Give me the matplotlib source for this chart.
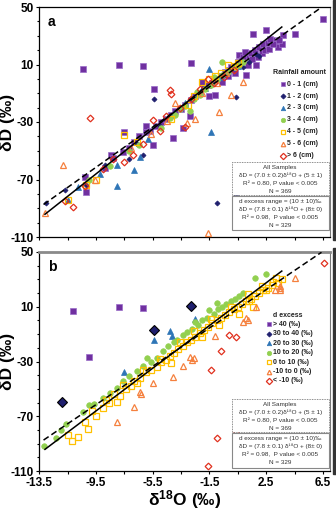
"""Two-panel δD vs δ18O scatter: (a) by rainfall amount, (b) by d excess."""
import matplotlib
matplotlib.use("Agg")
import matplotlib.pyplot as plt  # noqa: E402
from matplotlib.patches import Rectangle  # noqa: E402
from matplotlib.ticker import MultipleLocator, FixedLocator  # noqa: E402

plt.rcParams["font.family"] = ["Liberation Sans", "DejaVu Sans"]
plt.rcParams["mathtext.fontset"] = "custom"
plt.rcParams["mathtext.rm"] = "Liberation Sans"
plt.rcParams["mathtext.bf"] = "Liberation Sans:bold"
plt.rcParams["mathtext.it"] = "Liberation Sans:italic"

# ---- panel a: rainfall amount classes -------------------------------------
A_LABELS = ["0 - 1 (cm)", "1 - 2 (cm)", "2 - 3 (cm)", "3 - 4 (cm)",
            "4 - 5 (cm)", "5 - 6 (cm)", "> 6 (cm)"]
A_X_01 = [-10.4, -7.9, -6.2, -5.4, -2.8, -4.1, -5.5, -7.5, -10.3, -10.2, -8.45, -6.0,
          6.5, 1.6, 2.5, 4.5, 3.7, 3.1, 3.3, 3.6, 0.6, 1.8, 1.1, -1.1, -2.9, -3.4,
          -1.5, -2.0, -8.9, -8.3, -7.6, -7.2, -6.8, -6.5, -6.0, -5.7, -5.3, -4.9,
          -4.6, -4.2, -3.9, -3.5, -3.2, -2.8, -2.5, -2.2, -1.9, -1.6, -1.3, -1.0,
          -0.7, -0.4, -0.1, 0.2, 0.5, 0.8, 1.1, 1.4, 1.7, 2.0, 2.3, 2.6, 2.9, 0.9,
          1.5, 2.2, 0.3, -0.6, 1.9, 2.4, 2.7, 1.2, -0.2, 3.0, 2.8, 3.4, 0.0, 1.0]
A_Y_01 = [7, 10, 9, -7, 11, -41, -46, -37, -68, -79, -53, -33,
          42, 31, 34, 31, 30.5, 26, 22, 24, 16.6, 10, 3, -11, -26, -34,
          -12, -2, -62, -55, -51, -48, -44, -40, -37, -36, -33, -30,
          -28, -25, -22, -21, -18, -15, -12, -10, -6, -4, -3, 0,
          2, 5, 6, 9, 12, 13, 16, 18, 20, 22, 24, 25, 27, 15,
          14, 18, 4, -2, 15, 20, 21, 10, 2, 24, 28, 27, 8, 19]
A_X_12 = [0.35, -1.0, -5.4, 0.35, -13.0, -11.7, -6.2, -7.2, -8.9, -4.4, -10.2,
          0.9, 1.8, -3.5, -2.0, -0.5, 1.3, 2.0, -6.6, -5.0]
A_Y_12 = [-81, -86, -14, -12.4, -86.6, -77, -53, -56, -60, -27, -74,
          8.5, 17, -20, -8, 3, 12, 16, -45, -33]
A_X_23 = [-1.5, -1.4, -8.0, -6.8, -8.0, -9.2, -10.8, -11.5, -6.4, -4.0, -3.2,
          -2.3, -0.8, 0.5, -5.8, -1.8]
A_Y_23 = [6.7, -36.7, -74.5, -63.4, -60, -66, -75, -84, -54, -24, -17,
          -10, 1, 9, -42, -6]
A_X_34 = [-0.65, 0.9, -2.9, -4.9, -8.5, -10.0, -3.6, -3.2, -2.6, -2.2, -1.8,
          -1.4, -1.0, -0.6, -0.2, 0.3, -3.9, -4.3, -7.2, -6.5, 0.6, -2.4, -1.2]
A_Y_34 = [12, 12, -22, -34.4, -60.6, -70, -21, -19, -14, -11, -7,
          -4, -1, 3, 5, 8, -25, -27, -50, -46, 10, -9, 1]
A_X_45 = [-7.5, -2.0, -0.2, -10.2, -11.5, -9.5, -1.5, -0.7, 0.2, 0.5, -1.1,
          -4.2, -3.0, -6.6, -2.6]
A_Y_45 = [-39, -2, 9.7, -74, -84, -70, 0, 4, 9, 11, 2,
          -28, -18, -44, -12]
A_X_56 = [-13.1, -11.8, -1.6, 0.9, 0.0, -0.8, -2.5, -3.1, -3.9, -9.6, -7.0,
          -4.5, -2.0, -1.0, -0.3, -5.6]
A_Y_56 = [-93, -60, -107.5, -2, -11, -23, -28, -31, -17, -70, -48,
          -29, -10, -3, 4, -38]
A_X_6P = [-9.9, -4.3, -4.2, -5.5, -6.9, -7.5, -11.15, -11.7, -10.3, -3.2, -1.6,
          -2.2, -8.3, -5.0, -3.6, -2.8, -1.2, -0.5, 0.2, -6.2, -4.6, -9.0]
A_Y_6P = [-27.4, -7.7, -10.7, -28.6, -53, -57.6, -89, -85, -74.5, -33.7, 0,
          -7, -56, -36, -20, -14, -3, 1, 6, -45, -26, -63]

# ---- panel b: d excess classes --------------------------------------------
B_LABELS = ["> 40 (‰)", "30 to 40 (‰)", "20 to 30 (‰)", "10 to 20 (‰)",
            "0 to 10 (‰)", "-10 to 0 (‰)", "< -10 (‰)"]
B_X_GT40 = [-11.1, -7.9, -6.2, -10.0]
B_Y_GT40 = [7, 10, 9, -27]
B_X_3040 = [-11.9, -5.4, -2.8]
B_Y_3040 = [-59.5, -7, 10.7]
B_X_2030 = [-2.5, -5.4, -4.3, -4.15, -7.5]
B_Y_2030 = [1, -14, -7.6, -11.3, -37.5]
B_X_1020 = [1.7, 2.5, -1.5, -13.2, -12.3, -11.6, -10.4, -9.65, -8.5, -7.2, -5.9,
            -5.2, -3.1, -9.0, -8.0, -6.6, -6.2, -4.8, -4.4, -3.8, -3.4, -2.7,
            -2.3, -2.0, -1.7, -1.2, -0.9, -0.6, -0.3, 0.0, 0.3, 0.6, -4.0, -5.6,
            -7.6, -10.0, -12.0, -1.0, -2.5, 0.9]
B_Y_1020 = [31, 34, 7.5, -92, -86, -76, -67, -61, -53, -40.6, -27.7,
            -27.7, -8.8, -57, -49, -37, -33, -22, -19, -14, -11, -6,
            -3, 0, 2, 5, 8, 10, 12, 14, 16, 18, -16, -30,
            -44, -62, -80, 13, -1, 20]
B_X_010 = [-11.2, -10.8, -11.5, -10.1, -10.3, -9.5, -9.0, -8.6, -8.2, -7.8, -7.4,
           -7.0, -6.8, -6.4, -6.0, -5.6, -5.2, -4.9, -4.6, -4.3, -4.0, -3.7,
           -3.4, -3.1, -2.8, -2.5, -2.2, -1.9, -1.6, -1.3, -1.0, -0.7, -0.4,
           -0.1, 0.2, 0.5, 0.8, 1.1, 1.4, 1.7, 2.0, 2.3, 2.6, 2.9, 3.2, 3.0,
           2.2, 1.2, 0.0, -1.4, -2.6, -3.6, -5.0, -6.2, -7.6, -8.8, -9.8, -0.8,
           0.6, 1.6, -2.0, -4.2, -6.6, -8.0, 3.6, 3.3, 2.5, 1.3]
B_Y_010 = [-88, -85, -84, -79, -74, -70, -64, -60, -54, -55, -50,
           -48, -44, -42, -38, -36, -34, -30, -29, -26, -24, -21,
           -19, -16, -14, -12, -9, -7, -5, -2, 0, 2, 4,
           6, 8, 10, 12, 14, 16, 18, 20, 22, 24, 26, 31, 28,
           25, 19, 10, 1, -8, -16, -28, -36, -47, -58, -66, -3,
           5, 10, -12, -31, -46, -59.5, 30, 27, 22, 14]
B_X_N100 = [4.5, 3.45, 3.45, 3.5, 3.1, 1.8, 1.1, 1.2, 0.9, -1.1, -2.9, -2.7,
            -2.6, -3.4, -4.1, -5.5, -6.4, -6.35, -6.8, -8.05]
B_Y_N100 = [31, 25, 23.5, 22, 22, 10, 2, 0, -1.5, -11.3, -27, -29,
            -27.4, -33, -41, -45.5, -52.5, -54, -63, -74]
B_X_LTN10 = [6.6, -0.1, 0.35, -0.7, -1.4, 0.35, -1.0, -1.6]
B_Y_LTN10 = [42, -10.5, -12.2, -22.3, -36.2, -80.8, -86, -106.5]

Y_TICKS = [50, 10, -30, -70, -110]
X_TICKS = [-13.5, -9.5, -5.5, -1.5, 2.5, 6.5]
X_TICK_LABELS = ["-13.5", "-9.5", "-5.5", "-1.5", "2.5", "6.5"]

# regression lines (end points of the drawn segments)
SOLID_X = [-13.1, 3.6]      # dD = 7.8 d18O + 8
DASH_X = [-13.2, 6.4]       # dD = 7.0 d18O + 5

PURPLE, NAVY, BLUE, GREEN = "#7030A0", "#1F1F6E", "#2E75B6", "#92D050"
YELLOW, ORANGE, RED = "#FFC000", "#F5803E", "#E0301E"

STYLES = [
    dict(marker="s", ms=4.0, mfc=PURPLE, mec="#9A6CC8", mew=0.5),
    dict(marker="D", ms=2.6, mfc=NAVY, mec=NAVY, mew=0.5),
    dict(marker="^", ms=4.0, mfc=BLUE, mec=BLUE, mew=0.5),
    dict(marker="o", ms=4.0, mfc=GREEN, mec=GREEN, mew=0.5),
    dict(marker="s", ms=4.2, mfc="none", mec=YELLOW, mew=0.9),
    dict(marker="^", ms=4.6, mfc="none", mec=ORANGE, mew=0.9),
    dict(marker="D", ms=3.4, mfc="none", mec=RED, mew=0.9),
]

BOX1 = ["All Samples",
        "δD = (7.0 ± 0.2)δ¹⁸O + (5 ± 1)",
        "R² = 0.80, P value < 0.005",
        "N = 369"]
BOX2 = ["d excess range = (10 ± 10)‰",
        "δD = (7.8 ± 0.1) δ¹⁸O + (8± 0)",
        "R² = 0.98,  P value < 0.005",
        "N = 329"]


def setup_axes(ax, show_xlabels):
    ax.set_xlim(-13.5, 7.0)
    ax.set_ylim(-110, 50)
    ax.xaxis.set_major_locator(FixedLocator(X_TICKS))
    ax.xaxis.set_minor_locator(FixedLocator([-11.5, -7.5, -3.5, 0.5, 4.5]))
    ax.yaxis.set_major_locator(FixedLocator(Y_TICKS))
    ax.yaxis.set_minor_locator(MultipleLocator(10))
    ax.tick_params(which="both", direction="out", length=2.5, width=0.8,
                   labelsize=8.5, pad=1.5)
    ax.tick_params(axis="y", which="minor", length=1.8)
    ax.set_yticklabels([str(v) for v in Y_TICKS], fontweight="bold", fontsize=8.5)
    if show_xlabels:
        ax.set_xticklabels(X_TICK_LABELS, fontweight="bold", fontsize=8.5)
    else:
        ax.set_xticklabels([])
    ax.set_ylabel("δD (‰)", fontsize=12.5, fontweight="bold", labelpad=0)
    for sp in ax.spines.values():
        sp.set_linewidth(0.9)
    ax.spines["right"].set_linewidth(0.8)
    ax.spines["right"].set_color("#777777")


def draw_panel(ax, series, labels, title, leg_x, leg_y, leg_dy, title_x):
    for (xs, ys), st in zip(series, STYLES):
        ax.plot(xs, ys, ls="none", zorder=3, **st)
    ax.plot(SOLID_X, [7.8 * x + 8 for x in SOLID_X], color="black", lw=1.1, zorder=4)
    ax.plot(DASH_X, [7.0 * x + 5 for x in DASH_X], color="black", lw=1.1,
            ls=(0, (4, 2.2)), zorder=4)
    # legend drawn by hand
    ax.text(title_x, leg_y, title, transform=ax.transAxes, fontsize=5,
            fontweight="bold", ha="left", va="center", color="#222222")
    for i, (lab, st) in enumerate(zip(labels, STYLES)):
        y = leg_y - leg_dy * (i + 1)
        ax.plot([leg_x], [y], transform=ax.transAxes, ls="none", clip_on=False,
                **{**st, "ms": min(st["ms"], 3.2)})
        ax.text(leg_x + 0.014, y, lab, transform=ax.transAxes, fontsize=5,
                fontweight="bold", ha="left", va="center", color="#222222")


def draw_box(ax, lines, top_px, h_px, ax_h_px, dotted):
    x0, w = 0.662, 0.995 - 0.662
    top = 1 - top_px / ax_h_px
    if dotted:
        ax.add_patch(Rectangle((x0, top - h_px / ax_h_px), w, h_px / ax_h_px,
                               transform=ax.transAxes, facecolor="white",
                               ec="#666666", lw=0.6, ls=(0, (1, 1)), zorder=5))
    else:
        ax.add_patch(Rectangle((x0, top - h_px / ax_h_px), w, h_px / ax_h_px,
                               transform=ax.transAxes, facecolor="white",
                               ec="#888888", lw=0.8, zorder=5))
    for i, line in enumerate(lines):
        y = top - (5.5 + 7.9 * i) / ax_h_px
        ax.text(x0 + w / 2, y, line, transform=ax.transAxes, fontsize=4.6,
                ha="center", va="center", zorder=6, color="#333333")


fig = plt.figure(figsize=(3.36, 5.12), dpi=100)
axa = fig.add_axes([39.3 / 336, 1 - 237 / 512, 290.7 / 336, 230 / 512])
axb = fig.add_axes([39.3 / 336, 1 - 471 / 512, 290.7 / 336, 219 / 512])

series_a = [(A_X_01, A_Y_01), (A_X_12, A_Y_12), (A_X_23, A_Y_23), (A_X_34, A_Y_34),
            (A_X_45, A_Y_45), (A_X_56, A_Y_56), (A_X_6P, A_Y_6P)]
series_b = [(B_X_GT40, B_Y_GT40), (B_X_3040, B_Y_3040), (B_X_2030, B_Y_2030),
            (B_X_1020, B_Y_1020), (B_X_010, B_Y_010), (B_X_N100, B_Y_N100),
            (B_X_LTN10, B_Y_LTN10)]

draw_panel(axa, series_a, A_LABELS, "Rainfall amount", 0.838, 0.717, 0.052, 0.805)
draw_panel(axb, series_b, B_LABELS, "d excess", 0.790, 0.712, 0.043, 0.805)
# navy diamonds in panel b are larger with black rims
axb.plot(B_X_3040, B_Y_3040, ls="none", marker="D", ms=5, mfc=NAVY, mec="black",
         mew=0.8, zorder=3)
draw_box(axa, BOX1, 155, 33, 230, True)
draw_box(axa, BOX2, 189, 34, 230, False)
draw_box(axb, BOX1, 147, 33, 219, True)
draw_box(axb, BOX2, 181, 35, 219, False)

setup_axes(axa, False)
setup_axes(axb, True)
axb.spines["top"].set_linewidth(2.0)
axb.spines["top"].set_color("#8a8a8a")
axb.set_xlabel("δ$^{\\mathbf{18}}$O (‰)", fontsize=12.5, fontweight="bold",
               labelpad=0)
axa.yaxis.set_label_coords(-0.085, 0.5)
axb.yaxis.set_label_coords(-0.085, 0.5)

axa.text(0.03, 0.965, "a", transform=axa.transAxes, fontsize=10, fontweight="bold",
         va="top")
axb.text(0.03, 0.965, "b", transform=axb.transAxes, fontsize=10, fontweight="bold",
         va="top")

# dark frame edge along the right side of each panel
fig.patches.append(Rectangle((332.5 / 336, 1 - 240 / 512), 3.5 / 336, 240 / 512,
                             transform=fig.transFigure, color="#333333", zorder=0))
fig.patches.append(Rectangle((332.5 / 336, 1 - 474 / 512), 3.5 / 336, 226 / 512,
                             transform=fig.transFigure, color="#333333", zorder=0))

fig.savefig("out.png", facecolor="white")
